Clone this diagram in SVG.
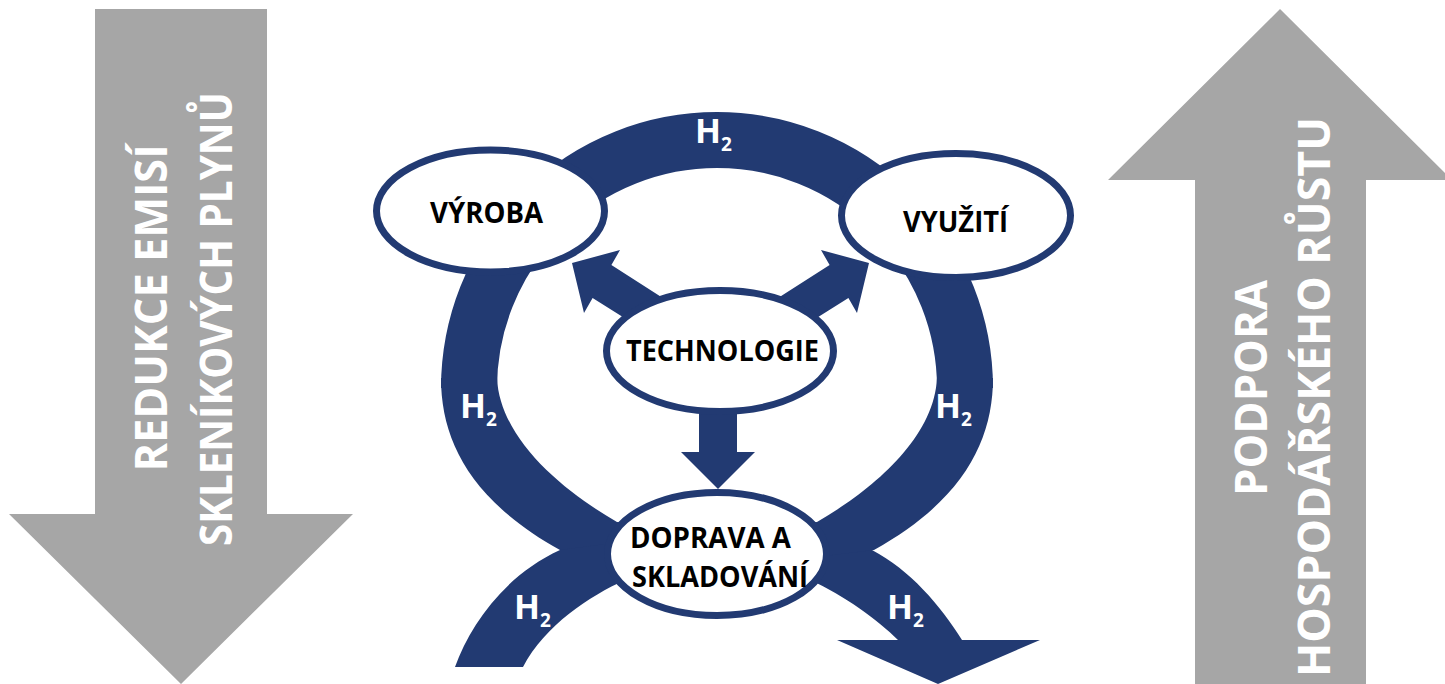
<svg xmlns="http://www.w3.org/2000/svg" width="1445" height="684" viewBox="0 0 1445 684">
<style>
.grey{fill:#A6A6A6}
.gtxt{font-family:"Open Sans","Noto Sans",sans-serif;font-weight:700;font-size:45px;fill:#fff;text-anchor:middle}
.blue{fill:#223A72}
.ring{fill:none;stroke:#223A72;stroke-width:56}
.node ellipse{fill:#fff;stroke:#223A72;stroke-width:7}
.lbl{font-family:"Open Sans","Noto Sans",sans-serif;font-weight:700;font-size:28px;fill:#000}
.h2{font-family:"Open Sans","Noto Sans",sans-serif;font-weight:700;font-size:34px;fill:#fff}
.sub{font-size:19px}
</style>
<rect width="1445" height="684" fill="#fff"/>
<g id="reduce-arrow">
<polygon class="grey" points="95,9 267,9 267,514 353,514 181,684 9,514 95,514"/>
<text class="gtxt" transform="translate(167,308) rotate(-90)" textLength="327" lengthAdjust="spacingAndGlyphs">REDUKCE EMISÍ</text>
<text class="gtxt" transform="translate(232,319) rotate(-90)" textLength="454" lengthAdjust="spacingAndGlyphs">SKLENÍKOVÝCH PLYNŮ</text>
</g>
<g id="growth-arrow">
<polygon class="grey" points="1280,9 1452,180 1366,180 1366,690 1195,690 1195,180 1108,180"/>
<text class="gtxt" transform="translate(1267,388) rotate(-90)" textLength="216" lengthAdjust="spacingAndGlyphs">PODPORA</text>
<text class="gtxt" transform="translate(1330,397) rotate(-90)" textLength="560" lengthAdjust="spacingAndGlyphs">HOSPODÁŘSKÉHO RŮSTU</text>
</g>
<g id="connectors">
<path class="ring" d="M469,388 A248,248 0 1 1 965,388"/>
<path class="blue" d="M441,378 C441,440 470,500 560,550 L810,580 C845,596 878,620 898,640 L837,640 L938,684 L1040,640 L962,640 C940,605 910,570 872,550 L720,530 L617,522 C565,492 500,440 497,378 Z"/>
<path class="blue" d="M993,378 C993,440 964,500 874,550 L625,580 C590,596 545,625 523,667 L455,667 C470,625 505,575 560,550 L712,530 L817,522 C869,492 934,440 937,378 Z"/>
<polygon class="blue" points="699,400 737,400 737,452 755,452 718,489 681,452 699,452"/>
<polygon class="blue" points="572,263 620,250 611.4,265.1 680,309 661,341 592.6,297.9 584,313"/>
<polygon class="blue" transform="translate(1441,0) scale(-1,1)" points="572,263 620,250 611.4,265.1 680,309 661,341 592.6,297.9 584,313"/>
<text class="h2" x="695" y="143">H<tspan class="sub" dy="8">2</tspan></text>
<text class="h2" x="460" y="418">H<tspan class="sub" dy="8">2</tspan></text>
<text class="h2" x="935" y="418">H<tspan class="sub" dy="8">2</tspan></text>
<text class="h2" x="514" y="619">H<tspan class="sub" dy="8">2</tspan></text>
<text class="h2" x="887" y="619">H<tspan class="sub" dy="8">2</tspan></text>
</g>
<g id="vyroba" class="node">
<ellipse cx="490.5" cy="211" rx="114" ry="61"/>
<text class="lbl" x="430" y="223" textLength="113" lengthAdjust="spacingAndGlyphs">VÝROBA</text>
</g>
<g id="vyuziti" class="node">
<ellipse cx="956" cy="215.5" rx="114.5" ry="62"/>
<text class="lbl" x="903" y="232" textLength="105" lengthAdjust="spacingAndGlyphs">VYUŽITÍ</text>
</g>
<g id="technologie" class="node">
<ellipse cx="720" cy="351" rx="113.5" ry="60.5"/>
<text class="lbl" x="626" y="361" textLength="193" lengthAdjust="spacingAndGlyphs">TECHNOLOGIE</text>
</g>
<g id="doprava" class="node">
<ellipse cx="717" cy="554" rx="109.5" ry="61.5"/>
<text class="lbl" x="630" y="548" textLength="161" lengthAdjust="spacingAndGlyphs">DOPRAVA A</text>
<text class="lbl" x="632" y="587" textLength="176" lengthAdjust="spacingAndGlyphs">SKLADOVÁNÍ</text>
</g>
</svg>
